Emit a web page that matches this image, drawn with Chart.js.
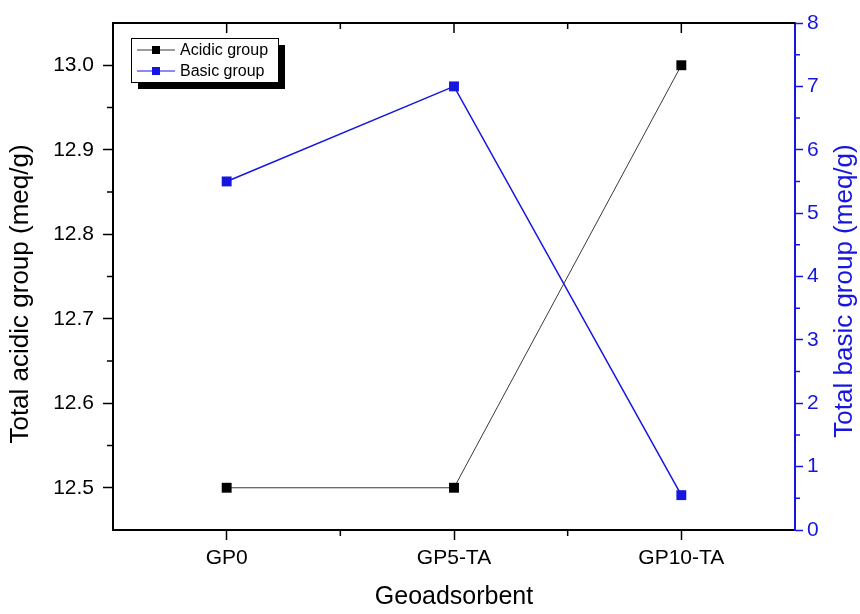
<!DOCTYPE html>
<html><head><meta charset="utf-8">
<script src="https://cdn.jsdelivr.net/npm/chart.js@4"></script>
<style>html,body{margin:0;padding:0;background:#fff;}canvas{display:block;}</style>
</head><body>
<canvas id="c" width="860" height="614"></canvas>
<script>
const categories = ['GP0', 'GP5-TA', 'GP10-TA'];
const acidicValues = [12.5, 12.5, 13.0];
const basicValues = [5.5, 7.0, 0.55];
const leftTickValues = [12.5, 12.6, 12.7, 12.8, 12.9, 13.0];
const rightTickValues = [0, 1, 2, 3, 4, 5, 6, 7, 8];
const seriesNames = ['Acidic group', 'Basic group'];
const xTitle = 'Geoadsorbent';
const leftTitle = 'Total acidic group (meq/g)';
const rightTitle = 'Total basic group (meq/g)';

const BLUE = '#1616e0';
const FONT = "'Liberation Sans', Arial, sans-serif";

const decorPlugin = {
  id: 'decor',
  afterDraw(chart) {
    const ctx = chart.ctx;
    const a = chart.chartArea;
    const xs = chart.scales.x, yl = chart.scales.y, yr = chart.scales.y1;
    ctx.save();
    // top frame
    ctx.strokeStyle = '#000';
    ctx.lineWidth = 2;
    ctx.beginPath();
    ctx.moveTo(a.left - 1, a.top);
    ctx.lineTo(a.right, a.top);
    ctx.stroke();
    // x ticks: top major, top/bottom minor
    ctx.lineWidth = 1.5;
    const cx = categories.map((c, i) => xs.getPixelForValue(i));
    ctx.beginPath();
    cx.forEach(p => { ctx.moveTo(p, a.top); ctx.lineTo(p, a.top + 10); });
    for (let i = 0; i < cx.length - 1; i++) {
      const m = (cx[i] + cx[i + 1]) / 2;
      ctx.moveTo(m, a.top); ctx.lineTo(m, a.top + 6);
      ctx.moveTo(m, a.bottom); ctx.lineTo(m, a.bottom + 6);
    }
    // left minor ticks
    for (let i = 0; i < leftTickValues.length - 1; i++) {
      const v = (leftTickValues[i] + leftTickValues[i + 1]) / 2;
      const p = yl.getPixelForValue(v);
      ctx.moveTo(a.left, p); ctx.lineTo(a.left - 6, p);
    }
    ctx.stroke();
    // right minor ticks
    ctx.strokeStyle = BLUE;
    ctx.beginPath();
    for (let i = 0; i < rightTickValues.length - 1; i++) {
      const v = (rightTickValues[i] + rightTickValues[i + 1]) / 2;
      const p = yr.getPixelForValue(v);
      ctx.moveTo(a.right, p); ctx.lineTo(a.right + 5, p);
    }
    ctx.stroke();

    // y titles
    ctx.font = '26px ' + FONT;
    ctx.textAlign = 'center';
    ctx.textBaseline = 'middle';
    ctx.fillStyle = '#000';
    ctx.save();
    ctx.translate(21, 294);
    ctx.rotate(-Math.PI / 2);
    ctx.fillText(leftTitle, 0, 0);
    ctx.restore();
    ctx.fillStyle = BLUE;
    ctx.save();
    ctx.translate(845, 291);
    ctx.rotate(-Math.PI / 2);
    ctx.fillText(rightTitle, 0, 0);
    ctx.restore();

    // legend
    const lx = 131, ly = 38, lw = 147, lh = 44;
    ctx.fillStyle = '#000';
    ctx.fillRect(lx + 7, ly + 7, lw, lh);
    ctx.fillStyle = '#fff';
    ctx.fillRect(lx, ly, lw, lh);
    ctx.strokeStyle = '#000';
    ctx.lineWidth = 1;
    ctx.strokeRect(lx + 0.5, ly + 0.5, lw, lh);
    ctx.font = '16px ' + FONT;
    ctx.textAlign = 'left';
    chart.data.datasets.forEach((ds, i) => {
      const y = 50 + i * 21;
      ctx.strokeStyle = ds.borderColor;
      ctx.lineWidth = 1;
      ctx.beginPath();
      ctx.moveTo(137, y); ctx.lineTo(175, y);
      ctx.stroke();
      ctx.fillStyle = ds.pointBackgroundColor;
      ctx.fillRect(152, y - 4, 8, 8);
      ctx.fillStyle = '#000';
      ctx.fillText(ds.label, 180, y + 1);
    });
    ctx.restore();
  }
};

new Chart(document.getElementById('c'), {
  type: 'line',
  data: {
    labels: categories,
    datasets: [
      {
        label: seriesNames[0],
        data: acidicValues,
        yAxisID: 'y',
        borderColor: '#3a3a3a',
        backgroundColor: '#000',
        pointBackgroundColor: '#000',
        pointBorderColor: '#000',
        borderWidth: 1,
        pointStyle: 'rect',
        pointRadius: 7,
        pointBorderWidth: 0,
        tension: 0
      },
      {
        label: seriesNames[1],
        data: basicValues,
        yAxisID: 'y1',
        borderColor: BLUE,
        backgroundColor: BLUE,
        pointBackgroundColor: BLUE,
        pointBorderColor: BLUE,
        borderWidth: 1.5,
        pointStyle: 'rect',
        pointRadius: 7,
        pointBorderWidth: 0,
        tension: 0
      }
    ]
  },
  options: {
    responsive: false,
    animation: false,
    devicePixelRatio: 1,
    layout: { padding: { top: 23, left: 0, right: 0, bottom: 0 } },
    plugins: { legend: { display: false }, tooltip: { enabled: false } },
    scales: {
      x: {
        type: 'category',
        offset: true,
        grid: { offset: false, drawOnChartArea: false, drawTicks: true, tickLength: 10, tickWidth: 1.5, tickColor: '#000' },
        border: { display: true, color: '#000', width: 2 },
        ticks: { color: '#000', font: { family: FONT, size: 21 }, padding: 6 },
        title: { display: true, text: xTitle, color: '#000', font: { family: FONT, size: 25 }, padding: { top: 0, bottom: 1.5 } },
        afterFit(s) { s.height = 84; }
      },
      y: {
        type: 'linear',
        position: 'left',
        min: 12.45,
        max: 13.05,
        afterBuildTicks(s) { s.ticks = leftTickValues.map(v => ({ value: v })); },
        grid: { drawOnChartArea: false, drawTicks: true, tickLength: 10, tickWidth: 1.5, tickColor: '#000' },
        border: { display: true, color: '#000', width: 2 },
        ticks: { color: '#000', font: { family: FONT, size: 21 }, padding: 9, callback: v => Number(v).toFixed(1) },
        afterFit(s) { s.width = 113; }
      },
      y1: {
        type: 'linear',
        position: 'right',
        min: 0,
        max: 8,
        afterBuildTicks(s) { s.ticks = rightTickValues.map(v => ({ value: v })); },
        grid: { drawOnChartArea: false, drawTicks: true, tickLength: 8, tickWidth: 1.5, tickColor: BLUE },
        border: { display: true, color: BLUE, width: 2 },
        ticks: { color: BLUE, font: { family: FONT, size: 21 }, padding: 4, callback: v => String(v) },
        afterFit(s) { s.width = 65; }
      }
    }
  },
  plugins: [decorPlugin]
});
</script>
</body></html>
